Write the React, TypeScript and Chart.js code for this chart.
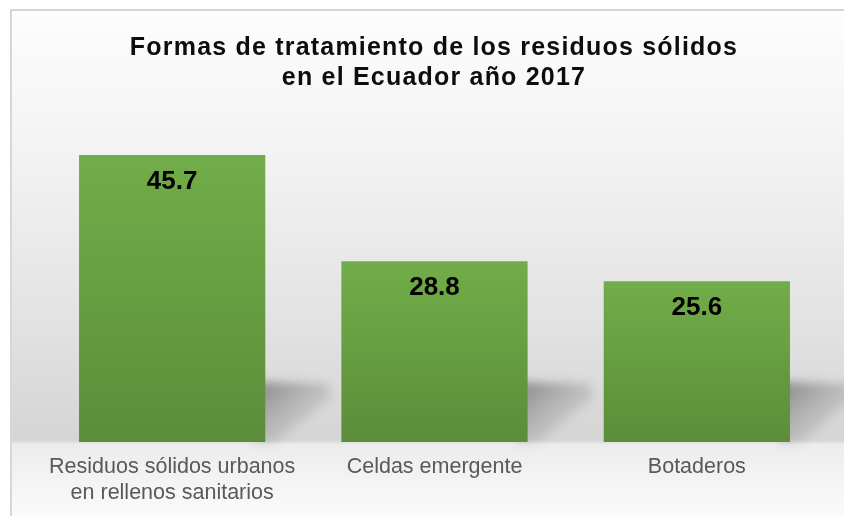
import React, { useEffect, useRef } from "react";
import { Chart, registerables } from "chart.js";

Chart.register(...registerables);

const categories: (string | string[])[] = [
  ["Residuos sólidos urbanos", "en rellenos sanitarios"],
  "Celdas emergente",
  "Botaderos",
];
const values = [45.7, 28.8, 25.6];
const valueLabels = ["45.7", "28.8", "25.6"];
const titleLines = ["Formas de tratamiento de los residuos sólidos", "en el Ecuador año 2017"];

const FONT = "'Liberation Sans', Arial, sans-serif";

export default function App() {
  const ref = useRef<HTMLCanvasElement>(null);

  useEffect(() => {
    const canvas = ref.current!;

    const decor = {
      id: "decor",
      beforeDraw(chart: any) {
        const ctx = chart.ctx as CanvasRenderingContext2D;
        const W = chart.width;
        const H = chart.height;
        ctx.save();
        ctx.fillStyle = "#ffffff";
        ctx.fillRect(0, 0, W, H);
        const g = ctx.createLinearGradient(0, 11, 0, H);
        g.addColorStop(0, "#fdfdfd");
        g.addColorStop(0.3, "#f2f2f2");
        g.addColorStop(0.6, "#e3e3e3");
        g.addColorStop(0.85, "#d5d5d5");
        g.addColorStop(0.858, "#ececec");
        g.addColorStop(1, "#fbfbfb");
        ctx.fillStyle = g;
        ctx.fillRect(12, 11, W - 12, H - 11);
        ctx.fillStyle = "#d6d6d6";
        ctx.fillRect(10, 9, W - 10, 2);
        ctx.fillRect(10, 9, 2, H - 9);
        ctx.restore();
      },
      beforeDatasetsDraw(chart: any) {
        const ctx = chart.ctx as CanvasRenderingContext2D;
        const meta = chart.getDatasetMeta(0);
        ctx.save();
        ctx.filter = "blur(5px)";
        meta.data.forEach((bar: any) => {
          const right = bar.x + bar.width / 2;
          const bottom = bar.base;
          const sh = ctx.createLinearGradient(right, bottom - 60, right + 50, bottom);
          sh.addColorStop(0, "rgba(120,120,120,0.8)");
          sh.addColorStop(1, "rgba(175,175,175,0.1)");
          ctx.fillStyle = sh;
          ctx.beginPath();
          ctx.moveTo(right - 10, bottom);
          ctx.lineTo(right - 10, bottom - 60);
          ctx.lineTo(right + 62, bottom - 58);
          ctx.lineTo(right + 66, bottom - 44);
          ctx.lineTo(right + 10, bottom);
          ctx.closePath();
          ctx.fill();
        });
        ctx.restore();
      },
      afterDatasetsDraw(chart: any) {
        const ctx = chart.ctx as CanvasRenderingContext2D;
        const meta = chart.getDatasetMeta(0);
        ctx.save();
        ctx.fillStyle = "#000000";
        ctx.font = `bold 26px ${FONT}`;
        ctx.textAlign = "center";
        ctx.textBaseline = "middle";
        meta.data.forEach((bar: any, i: number) => {
          ctx.fillText(valueLabels[i], bar.x, bar.y + 27);
        });
        ctx.restore();
      },
      afterDraw(chart: any) {
        const ctx = chart.ctx as CanvasRenderingContext2D;
        ctx.save();
        ctx.fillStyle = "#0d0d0d";
        ctx.font = `bold 25px ${FONT}`;
        (ctx as any).letterSpacing = "1.2px";
        ctx.textAlign = "center";
        ctx.textBaseline = "middle";
        titleLines.forEach((line, i) => {
          ctx.fillText(line, 434, 48 + i * 30);
        });
        ctx.restore();
      },
    };

    const chart = new Chart(canvas, {
      type: "bar",
      data: {
        labels: categories as any,
        datasets: [
          {
            data: values,
            backgroundColor: (c: any) => {
              const chart = c.chart;
              const { ctx, chartArea, scales } = chart;
              if (!chartArea || c.raw === undefined) return "#68a342";
              const top = scales.y.getPixelForValue(c.raw);
              const bottom = scales.y.getPixelForValue(0);
              const g = ctx.createLinearGradient(0, top, 0, bottom);
              g.addColorStop(0, "#71ad48");
              g.addColorStop(1, "#5c8d3a");
              return g;
            },
            borderWidth: 0,
            categoryPercentage: 1,
            barPercentage: 0.71,
          },
        ],
      },
      options: {
        responsive: false,
        animation: false,
        layout: { padding: { left: 41, right: 16, top: 128, bottom: 0 } },
        plugins: {
          legend: { display: false },
          tooltip: { enabled: false },
          title: { display: false },
        },
        scales: {
          x: {
            grid: { display: false, drawTicks: false },
            border: { display: false },
            ticks: {
              color: "#595959",
              font: { family: FONT, size: 21.5, lineHeight: 1.22 },
              padding: 12,
              maxRotation: 0,
              autoSkip: false,
            },
            afterFit: (scale: any) => {
              scale.height = 74;
            },
          },
          y: { display: false, min: 0, max: 50 },
        },
      },
      plugins: [decor],
    });

    return () => chart.destroy();
  }, []);

  return (
    <div style={{ position: "fixed", left: 0, top: 0, width: 844, height: 516, background: "#fff" }}>
      <canvas ref={ref} width={844} height={516} style={{ display: "block", width: 844, height: 516 }} />
    </div>
  );
}
